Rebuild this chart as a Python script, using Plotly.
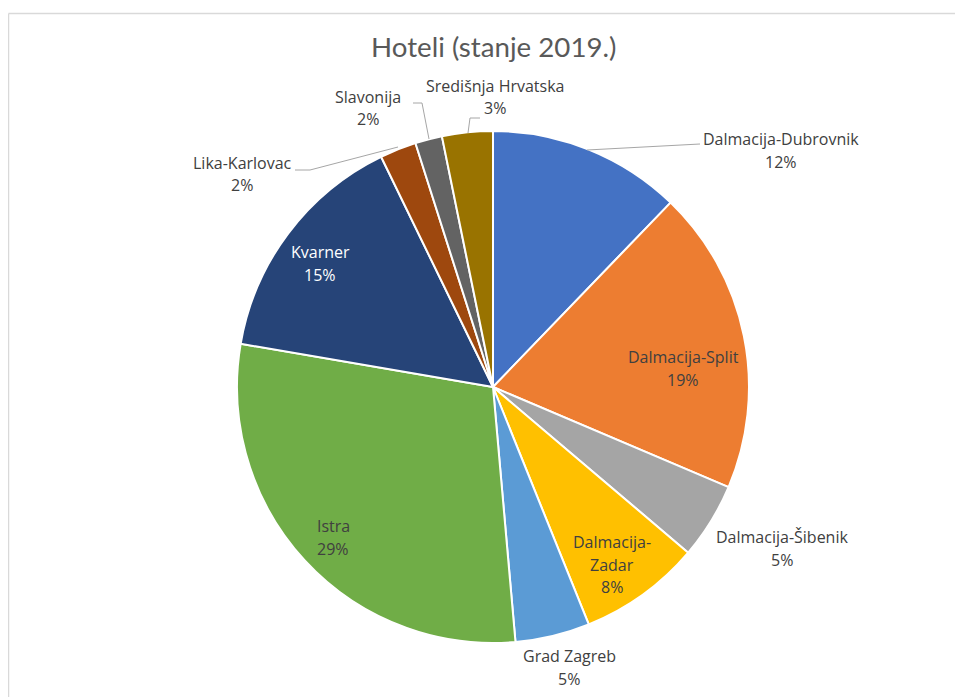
import plotly.graph_objects as go

W, H = 963, 697
OFF = 8  # browser page margin

# ---- data ----
regions = ["Dalmacija-Dubrovnik", "Dalmacija-Split", "Dalmacija-Šibenik", "Dalmacija-Zadar",
           "Grad Zagreb", "Istra", "Kvarner", "Lika-Karlovac", "Slavonija", "Središnja Hrvatska"]
shares = [12.2, 19.2, 4.8, 7.7, 4.7, 29.1, 15.1, 2.3, 1.7, 3.2]
colors = ["#4472C4", "#ED7D31", "#A5A5A5", "#FFC000", "#5B9BD5",
          "#70AD47", "#264478", "#9E480E", "#636363", "#997300"]
title_text = "Hoteli (stanje 2019.)"

total = sum(shares)
pcts = [f"{round(v / total * 100)}%" for v in shares]

# ---- label layout (pixel positions of label text lines) ----
label_lines = {
    "Dalmacija-Dubrovnik": (["Dalmacija-Dubrovnik"], 781, 139),
    "Dalmacija-Split": (["Dalmacija-Split"], 683, 357),
    "Dalmacija-Šibenik": (["Dalmacija-Šibenik"], 782, 537),
    "Dalmacija-Zadar": (["Dalmacija-", "Zadar"], 612, 542),
    "Grad Zagreb": (["Grad Zagreb"], 569, 656),
    "Istra": (["Istra"], 333, 526),
    "Kvarner": (["Kvarner"], 320, 252),
    "Lika-Karlovac": (["Lika-Karlovac"], 242, 163),
    "Slavonija": (["Slavonija"], 368, 97),
    "Središnja Hrvatska": (["Središnja Hrvatska"], 495, 86),
}
white_text = {"Kvarner"}
LINE_STEP = 22.5

leaders = [
    [(587, 150), (700, 144)],
    [(413, 103), (422, 103), (429, 139)],
    [(468, 133), (470, 118), (480, 118)],
    [(295, 170), (310, 170), (398, 147)],
]

def px(x):
    return (x - OFF) / W

def py(y):
    return 1 - (y - OFF) / H

cx, cy, R = 493, 387, 256

fig = go.Figure(go.Pie(
    labels=regions,
    values=shares,
    sort=False,
    direction="clockwise",
    rotation=0,
    marker=dict(colors=colors, line=dict(color="white", width=2)),
    textinfo="none",
    hoverinfo="label+percent",
    showlegend=False,
    domain=dict(x=[px(cx - R), px(cx + R)], y=[py(cy + R), py(cy - R)]),
))

annotations = []
for name, pct in zip(regions, pcts):
    lines, x, y0 = label_lines[name]
    col = "#FFFFFF" if name in white_text else "#404040"
    for i, t in enumerate(lines + [pct]):
        annotations.append(dict(
            x=px(x), y=py(y0 + i * LINE_STEP), xref="paper", yref="paper",
            text=t, showarrow=False, xanchor="center", yanchor="middle",
            font=dict(family="Open Sans", size=16, color=col),
        ))

annotations.append(dict(
    x=px(493), y=py(47), xref="paper", yref="paper", text=title_text,
    showarrow=False, xanchor="center", yanchor="middle",
    font=dict(family="Lato", size=27.7, color="#595959"),
))

shapes = []
for pts in leaders:
    for (x0, y0), (x1, y1) in zip(pts[:-1], pts[1:]):
        shapes.append(dict(type="line", xref="paper", yref="paper",
                           x0=px(x0), y0=py(y0), x1=px(x1), y1=py(y1),
                           line=dict(color="#A6A6A6", width=1)))
# chart area border
shapes.append(dict(type="line", xref="paper", yref="paper", x0=px(8.5), y0=py(13.5), x1=1.0, y1=py(13.5),
                   line=dict(color="#D9D9D9", width=1.5)))
shapes.append(dict(type="line", xref="paper", yref="paper", x0=px(8.5), y0=py(13.5), x1=px(8.5), y1=0.0,
                   line=dict(color="#D9D9D9", width=1.5)))

fig.update_layout(
    width=W, height=H,
    margin=dict(l=0, r=0, t=0, b=0),
    paper_bgcolor="white",
    plot_bgcolor="white",
    annotations=annotations,
    shapes=shapes,
)

fig.write_html("out.html")
